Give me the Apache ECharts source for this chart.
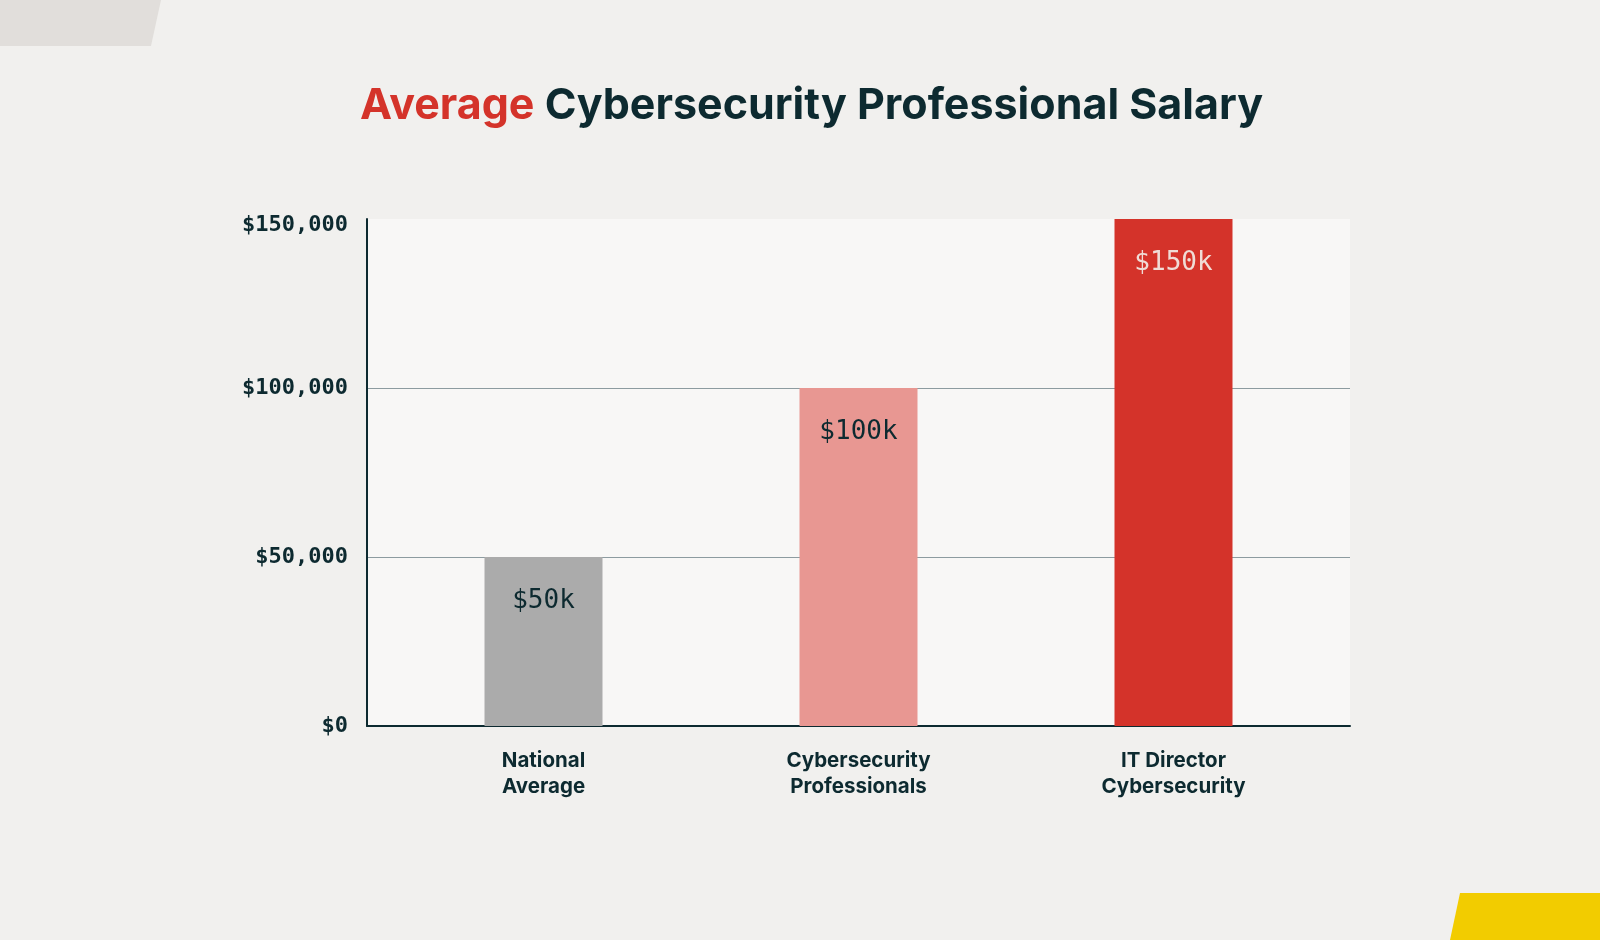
<!DOCTYPE html>
<html>
<head>
<meta charset="utf-8">
<script src="https://cdn.jsdelivr.net/npm/echarts@6/dist/echarts.min.js"></script>
<style>
html,body{margin:0;padding:0;background:#f1f0ee;}
#chart{width:1600px;height:940px;}
</style>
</head>
<body>
<div id="chart"></div>
<script>
const categories = ['National\nAverage', 'Cybersecurity\nProfessionals', 'IT Director\nCybersecurity'];
const salaries = [50000, 100000, 150000];
const yTicks = [0, 50000, 100000, 150000];

const barColors = ['#ababab', '#e89792', '#d4332a'];
const labelColors = ['#0d2a30', '#0d2a30', '#f0dcd6'];
const dark = '#0d2a30';
const mono = '"DejaVu Sans Mono", "Liberation Mono", monospace';
const sans = 'Inter, "Noto Sans", sans-serif';

const yMax = yTicks[yTicks.length - 1];
const chart = echarts.init(document.getElementById('chart'));
chart.setOption({
  backgroundColor: '#f1f0ee',
  animation: false,
  title: {
    text: '{a|Average }{b|Cybersecurity Professional Salary}',
    left: 355,
    top: 80,
    textStyle: {
      rich: {
        a: { color: '#d4332a', fontFamily: sans, fontWeight: 700, fontSize: 43 },
        b: { color: dark, fontFamily: sans, fontWeight: 700, fontSize: 43 }
      }
    }
  },
  graphic: [
    { type: 'polygon', shape: { points: [[0,0],[161,0],[151,46],[0,46]] }, style: { fill: '#e1dedb' }, silent: true },
    { type: 'polygon', shape: { points: [[1460,893],[1600,893],[1600,940],[1450,940]] }, style: { fill: '#f2cc00' }, silent: true }
  ],
  grid: [
    { left: 367, right: 250, top: 219, bottom: 214, show: true, backgroundColor: '#f8f7f6', borderWidth: 0 },
    { left: 386, right: 269, top: 219, bottom: 214 }
  ],
  xAxis: [
    { gridIndex: 0, type: 'category', data: categories,
      axisLine: { show: true, lineStyle: { color: dark, width: 2 } },
      axisTick: { show: false }, axisLabel: { show: false } },
    { gridIndex: 1, type: 'category', data: categories,
      axisLine: { show: false }, axisTick: { show: false },
      axisLabel: { margin: 22, color: dark, fontFamily: sans, fontWeight: 700, fontSize: 20.5, lineHeight: 26 } }
  ],
  yAxis: [
    { gridIndex: 0, type: 'value', min: yTicks[0], max: yMax, interval: yTicks[1] - yTicks[0],
      axisLine: { show: true, lineStyle: { color: dark, width: 2 } },
      axisTick: { show: false },
      axisLabel: { margin: 19, color: dark, fontFamily: mono, fontWeight: 700, fontSize: 22,
        formatter: v => {
          const s = '$' + v.toLocaleString('en-US');
          return v === yMax ? '{t|' + s + '}' : s;
        },
        rich: { t: { color: dark, fontFamily: mono, fontWeight: 700, fontSize: 22, padding: [12, 0, 0, 0] } } },
      splitLine: { show: true, lineStyle: { width: 1, color: ['rgba(0,0,0,0)', '#8d9ba0', '#8d9ba0', 'rgba(0,0,0,0)'] } } },
    { gridIndex: 1, type: 'value', min: yTicks[0], max: yMax, show: false, splitLine: { show: false } }
  ],
  series: [{
    type: 'bar',
    xAxisIndex: 1, yAxisIndex: 1,
    barWidth: 118,
    data: salaries.map((v, i) => ({
      value: v,
      itemStyle: { color: barColors[i] },
      label: { color: labelColors[i] }
    })),
    label: {
      show: true, position: 'insideTop', distance: 31,
      fontFamily: mono, fontSize: 26,
      formatter: p => '$' + (p.value / 1000) + 'k'
    }
  }]
});
</script>
</body>
</html>
